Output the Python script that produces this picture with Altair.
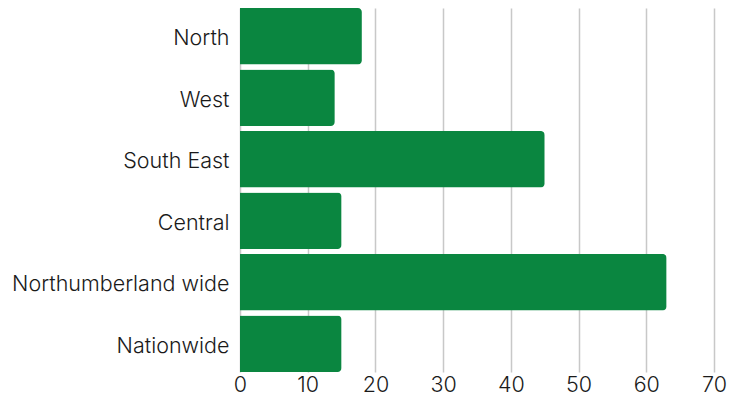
import altair as alt
import pandas as pd

categories = ["North", "West", "South East", "Central", "Northumberland wide", "Nationwide"]
values = [18, 14, 45, 15, 63, 15]

df = pd.DataFrame({"category": categories, "value": values})

FONT = "Inter"

chart = alt.Chart(df).mark_bar(
    color="#0A8640", cornerRadiusTopRight=4, cornerRadiusBottomRight=4
).encode(
    y=alt.Y("category:N", sort=categories, title=None,
            scale=alt.Scale(paddingInner=0.08, paddingOuter=0.0),
            axis=alt.Axis(labelFontSize=21.5, labelColor="#1a1a1a", labelFont=FONT,
                          labelFontWeight=300, labelLimit=400, labelOffset=3,
                          labelPadding=11, ticks=False, domain=False, grid=False)),
    x=alt.X("value:Q", title=None,
            scale=alt.Scale(domain=[0, 70], nice=False),
            axis=alt.Axis(values=[0, 10, 20, 30, 40, 50, 60, 70], labelFontSize=21.5,
                          labelColor="#1a1a1a", labelFont=FONT, labelFontWeight=300,
                          labelPadding=2, labelFlush=False,
                          ticks=False, domain=False, grid=True, gridColor="#C8C8C8",
                          gridWidth=1.5)),
).properties(
    width=474, height=364,
    autosize=alt.AutoSizeParams(type="none"),
    padding={"left": 232, "top": 0, "right": 13, "bottom": 32},
).configure_view(stroke=None)

chart.save("out.html", embed_options={"renderer": "svg", "actions": False})
